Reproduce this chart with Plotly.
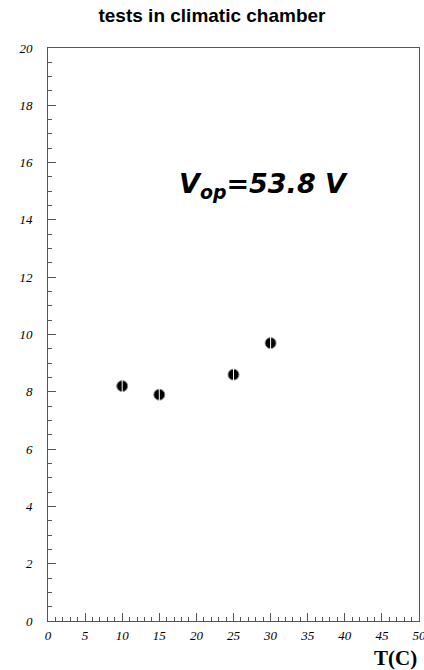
import plotly.graph_objects as go

temps = [10, 15, 25, 30]
values = [8.2, 7.9, 8.6, 9.7]
x_ticks = [0, 5, 10, 15, 20, 25, 30, 35, 40, 45, 50]
y_ticks = [0, 2, 4, 6, 8, 10, 12, 14, 16, 18, 20]

fig = go.Figure()
fig.add_trace(go.Scatter(
    x=temps, y=values, mode="markers",
    marker=dict(size=11, color="black", line=dict(color="#888888", width=1)),
    showlegend=False, hoverinfo="skip",
))
fig.add_trace(go.Scatter(
    x=temps, y=values, mode="markers",
    marker=dict(size=9, symbol="line-ns-open", color="white", line=dict(color="white", width=1)),
    showlegend=False,
))

tickfont = dict(family="Liberation Serif", size=13, color="black", style="italic")

fig.update_layout(
    width=424, height=670,
    margin=dict(l=48, r=5, t=48, b=49),
    paper_bgcolor="white", plot_bgcolor="white",
    title=dict(text="<b>tests in climatic chamber</b>", x=0.5, xanchor="center",
               y=0.977, yanchor="middle",
               font=dict(family="Liberation Sans, Arial", size=19, color="black")),
    xaxis=dict(range=[0, 50], tickmode="array", tickvals=x_ticks,
               ticktext=[f"<i>{v}</i>" for v in x_ticks],
               ticks="inside", ticklen=8, ticklabeloverflow="allow", automargin=False,
               tickcolor="#555555", showgrid=False, zeroline=False,
               showline=True, linecolor="#555555", linewidth=1, mirror=True,
               tickfont=tickfont,
               minor=dict(dtick=1, ticks="inside", ticklen=4, tickcolor="#555555"),
               ticklabelstandoff=2),
    yaxis=dict(range=[0, 20], tickmode="array", tickvals=y_ticks,
               ticktext=[f"<i>{v}</i>" for v in y_ticks],
               ticks="inside", ticklen=8, ticklabeloverflow="allow", automargin=False,
               tickcolor="#555555", showgrid=False, zeroline=False,
               showline=True, linecolor="#555555", linewidth=1, mirror=True,
               tickfont=tickfont,
               minor=dict(dtick=0.5, ticks="inside", ticklen=4, tickcolor="#555555"),
               ticklabelstandoff=12),
    annotations=[
        dict(text="<b><i>V<sub>op</sub>=53.8 V</i></b>", x=0.58, y=0.76,
             xref="paper", yref="paper", showarrow=False, xanchor="center", yanchor="middle",
             font=dict(family="DejaVu Sans", size=27, color="black")),
        dict(text="<b>T(C)</b>", x=1.0, y=-0.065, xref="paper", yref="paper",
             showarrow=False, xanchor="right", yanchor="middle",
             font=dict(family="Liberation Serif", size=21, color="black")),
    ],
)

fig.write_html("out.html")
